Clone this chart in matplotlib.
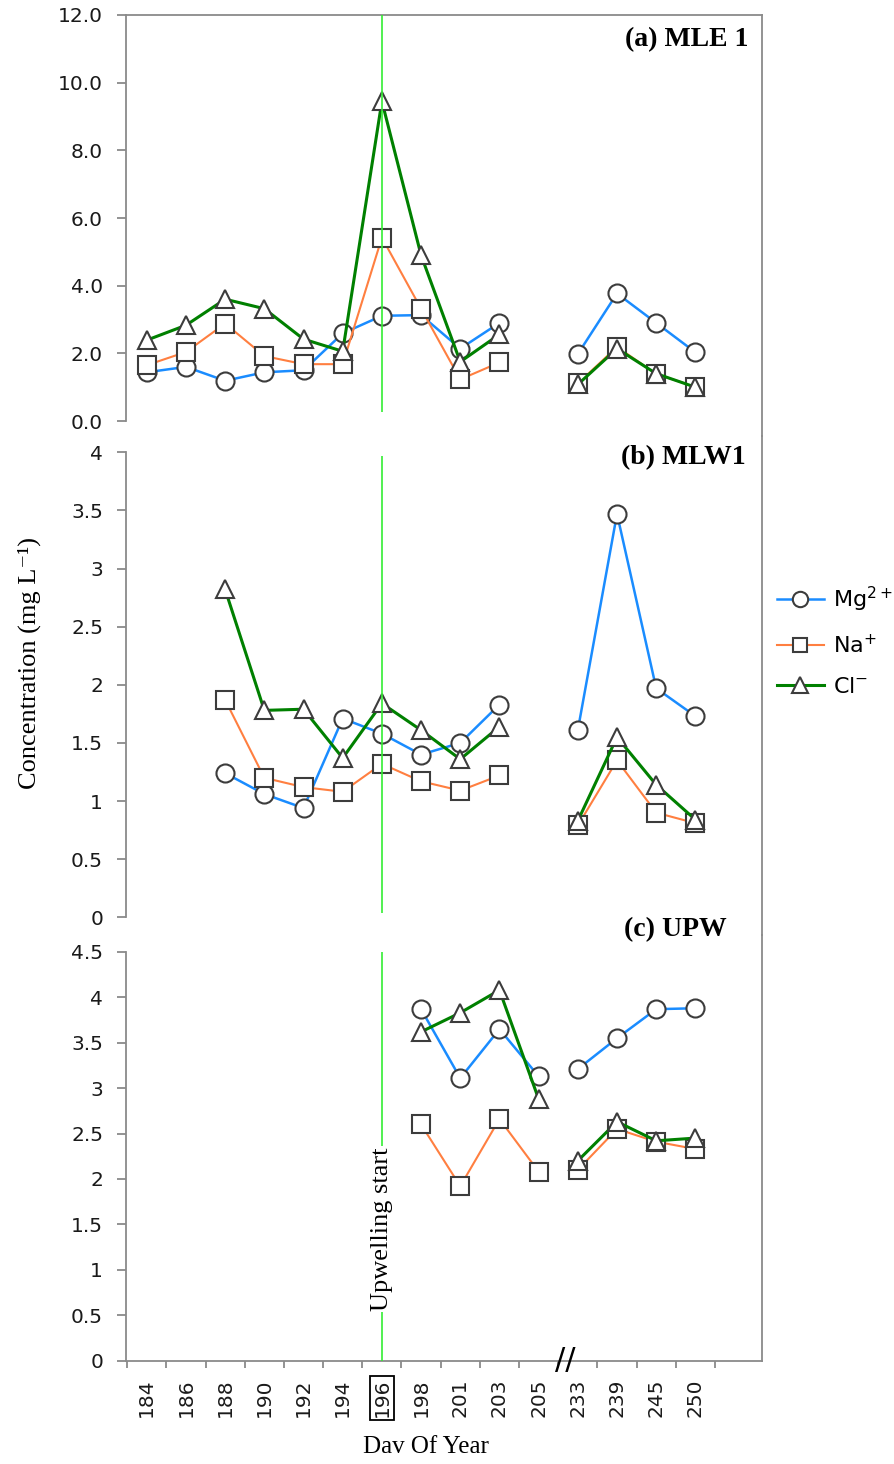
import matplotlib.pyplot as plt
import numpy as np

nan = np.nan

days = ['184', '186', '188', '190', '192', '194', '196', '198', '201',
        '203', '205', '233', '239', '245', '250']
upwelling_day = '196'
break_after = '205'

ions = ['Mg$^{2+}$', 'Na$^{+}$', 'Cl$^{-}$']

# (a) MLE 1
mle1_mg = [1.44, 1.60, 1.19, 1.44, 1.50, 2.59, 3.11, 3.13, 2.14, 2.90, nan, 1.98, 3.77, 2.90, 2.03]
mle1_na = [1.65, 2.04, 2.88, 1.92, 1.68, 1.68, 5.42, 3.32, 1.23, 1.73, nan, 1.11, 2.19, 1.39, 1.01]
mle1_cl = [2.39, 2.83, 3.60, 3.32, 2.42, 2.06, 9.45, 4.90, 1.75, 2.56, nan, 1.08, 2.14, 1.40, 1.00]

# (b) MLW1
mlw1_mg = [nan, nan, 1.24, 1.06, 0.94, 1.71, 1.58, 1.40, 1.50, 1.83, nan, 1.61, 3.47, 1.97, 1.73]
mlw1_na = [nan, nan, 1.87, 1.20, 1.12, 1.08, 1.32, 1.17, 1.09, 1.22, nan, 0.79, 1.35, 0.90, 0.81]
mlw1_cl = [nan, nan, 2.82, 1.78, 1.79, 1.37, 1.84, 1.61, 1.36, 1.64, nan, 0.83, 1.55, 1.14, 0.84]

# (c) UPW
upw_mg = [nan, nan, nan, nan, nan, nan, nan, 3.87, 3.11, 3.65, 3.13, 3.21, 3.55, 3.87, 3.88]
upw_na = [nan, nan, nan, nan, nan, nan, nan, 2.60, 1.92, 2.66, 2.08, 2.10, 2.55, 2.41, 2.33]
upw_cl = [nan, nan, nan, nan, nan, nan, nan, 3.62, 3.83, 4.08, 2.88, 2.20, 2.63, 2.42, 2.45]

styles = [
    dict(color='#1a8cff', marker='o', ms=13, lw=1.8),
    dict(color='#ff7f40', marker='s', ms=12.5, lw=1.5),
    dict(color='#008000', marker='^', ms=13.5, lw=2.2),
]
edge = '#3c3c3c'
spine_c = '#8a8a8a'
vline_c = '#33ee33'

W, H = 894, 1464
fig = plt.figure(figsize=(W / 100, H / 100), dpi=100)


def add_axes(top, bottom):
    return fig.add_axes([126 / W, 1 - bottom / H, (762 - 126) / W, (bottom - top) / H])


ax_a = add_axes(15, 436)
ax_b = add_axes(436, 935)
ax_c = add_axes(935, 1360.5)

panels = [
    (ax_a, [mle1_mg, mle1_na, mle1_cl], (-0.443, 12), 12, 2.0, '%.1f', (0.28, 12)),
    (ax_b, [mlw1_mg, mlw1_na, mlw1_cl], (-0.152, 4.14), 4, 0.5, None, (0.04, 3.97)),
    (ax_c, [upw_mg, upw_na, upw_cl], (0, 4.687), 4.5, 0.5, None, (0, 4.5)),
]

x = np.arange(len(days))
split = days.index(break_after) + 1
x_up = days.index(upwelling_day)

for ax, series, ylim, ytop, step, fmt, vrange in panels:
    for vals, st in zip(series, styles):
        vals = np.array(vals)
        # the series is broken at the axis break
        for seg in (slice(0, split), slice(split, None)):
            ax.plot(x[seg], vals[seg], color=st['color'], lw=st['lw'],
                    marker=st['marker'], ms=st['ms'], mfc='white',
                    mec=edge, mew=1.5, zorder=3)
    ax.vlines(x_up, vrange[0], vrange[1], color=vline_c, lw=1.2, zorder=5)
    ax.set_ylim(*ylim)
    ax.set_xlim(-0.53, 15.7)
    yt = np.arange(0, ytop + step / 2, step)
    ax.set_yticks(yt)
    if fmt:
        ax.set_yticklabels([fmt % v for v in yt])
    else:
        ax.set_yticklabels(['%g' % v for v in yt])
    ax.spines['left'].set_bounds(0, ytop)
    for s in ax.spines.values():
        s.set_color(spine_c)
        s.set_linewidth(1.3)
    ax.tick_params(axis='y', direction='out', length=6.5, width=1.3, color=spine_c,
                   labelsize=14.5, pad=10, labelcolor='#1a1a1a')
    ax.set_facecolor('none')

for ax in (ax_a, ax_b):
    ax.spines['bottom'].set_visible(False)
    ax.tick_params(axis='x', which='both', bottom=False, labelbottom=False)
for ax in (ax_b, ax_c):
    ax.spines['top'].set_visible(False)

# x axis on the bottom panel
ax_c.set_xticks(x)
ax_c.set_xticklabels(days, rotation=90)
ax_c.set_xticks(np.arange(-0.5, len(days)), minor=True)
ax_c.tick_params(axis='x', which='major', length=0, labelsize=14.5, pad=13,
                 labelcolor='#1a1a1a')
ax_c.tick_params(axis='x', which='minor', length=5, width=1.3, color=spine_c)
for lab in ax_c.get_xticklabels():
    if lab.get_text() == upwelling_day:
        lab.set_bbox(dict(facecolor='none', edgecolor='black', lw=1.3, pad=2))

# axis break
ax_c.text(split - 0.33, 0, '//', ha='center', va='center', fontsize=22,
          clip_on=False, zorder=6)

ax_c.text(x_up, 1.45, 'Upwelling start', rotation=90, ha='center', va='center',
          family='Liberation Serif', fontsize=19, zorder=6,
          bbox=dict(facecolor='white', edgecolor='none', pad=1))

# panel labels
for label, px, py in [('(a) MLE 1', 748, 40), ('(b) MLW1', 746, 458), ('(c) UPW', 727, 930)]:
    fig.text(px / W, 1 - py / H, label, ha='right', va='center',
             family='Liberation Serif', fontweight='bold', fontsize=20)

fig.text(29 / W, 1 - 663 / H, 'Concentration (mg L⁻¹)', rotation=90,
         ha='center', va='center', family=['Liberation Serif', 'DejaVu Serif'], fontsize=19)
fig.text(426 / W, 1 - 1447 / H, 'Dav Of Year', ha='center', va='center',
         family='Liberation Serif', fontsize=18)

handles = [ax_a.lines[i * 2] for i in range(3)]
fig.legend(handles, ions, loc='center left', bbox_to_anchor=(777 / W, 1 - 641 / H),
           frameon=False, fontsize=16, handlelength=2.1, handletextpad=0.4,
           labelspacing=0.9, borderpad=0, borderaxespad=0, markerscale=0.85)

fig.savefig('out.png', dpi=100)
